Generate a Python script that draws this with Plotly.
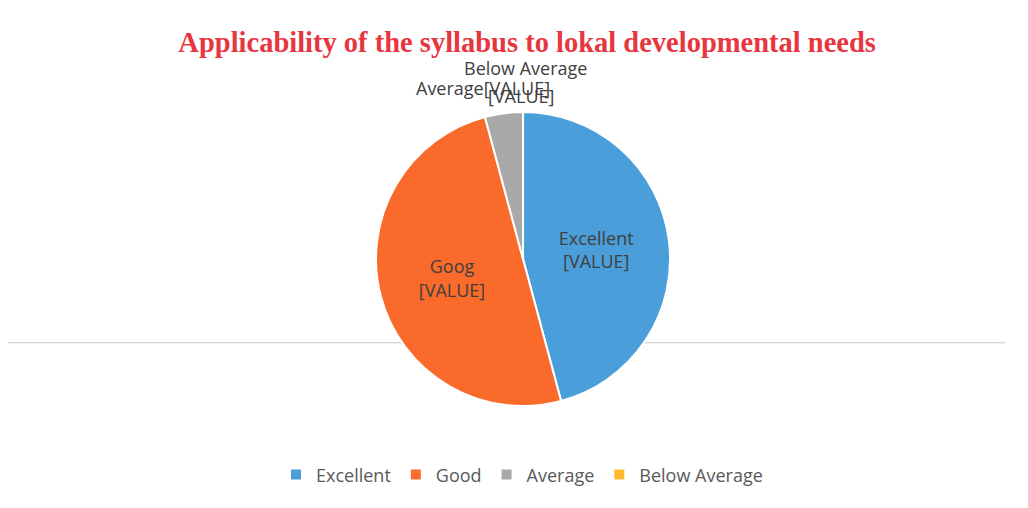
import plotly.graph_objects as go

# data
categories = ["Excellent", "Good", "Average", "Below Average"]
slice_text = ["Excellent<br>[VALUE]", "Goog<br>[VALUE]", "", ""]
responses = [22, 24, 2, 0]
colors = ["#4A9EDA", "#FA6A2B", "#A9A9A9", "#FFB92E"]

label_font = dict(family="Open Sans", size=18, color="#404040")

fig = go.Figure()

fig.add_trace(go.Pie(
    labels=categories,
    values=responses,
    text=slice_text,
    textinfo="text",
    textposition="inside",
    insidetextorientation="horizontal",
    sort=False,
    direction="clockwise",
    marker=dict(colors=colors, line=dict(color="white", width=2)),
    textfont=label_font,
    hoverinfo="label+value+percent",
    domain=dict(x=[0.357, 0.645], y=[0.2165, 0.7953]),
))

# outside labels of the two small slices (they overlap in the original too)
fig.add_annotation(text="Below Average", x=0.503, y=0.882, xref="paper", yref="paper",
                   xanchor="center", yanchor="middle", showarrow=False, font=label_font)
fig.add_annotation(text="[VALUE]", x=0.499, y=0.827, xref="paper", yref="paper",
                   xanchor="center", yanchor="middle", showarrow=False, font=label_font)
fig.add_annotation(text="Average[VALUE]", x=0.462, y=0.843, xref="paper", yref="paper",
                   xanchor="center", yanchor="middle", showarrow=False, font=label_font)

# faint fold line across the scanned page
fig.add_shape(type="line", x0=0, x1=0.97, y0=0.341, y1=0.341, xref="paper", yref="paper",
              line=dict(color="#C8C8C8", width=1), layer="below")

fig.update_layout(
    width=1028,
    height=508,
    margin=dict(l=0, r=0, t=0, b=0),
    paper_bgcolor="white",
    plot_bgcolor="white",
    title=dict(text="<b>Applicability of the syllabus to lokal developmental needs</b>",
               x=0.505, xanchor="center", y=0.933, yanchor="middle",
               font=dict(family="Liberation Serif", size=28.5, color="#E8363F")),
    legend=dict(orientation="h", x=0.5, xanchor="center", y=0.081, yanchor="middle",
                font=dict(family="Open Sans", size=18, color="#595959"),
                itemwidth=30, traceorder="normal"),
)

fig.write_html("out.html")
